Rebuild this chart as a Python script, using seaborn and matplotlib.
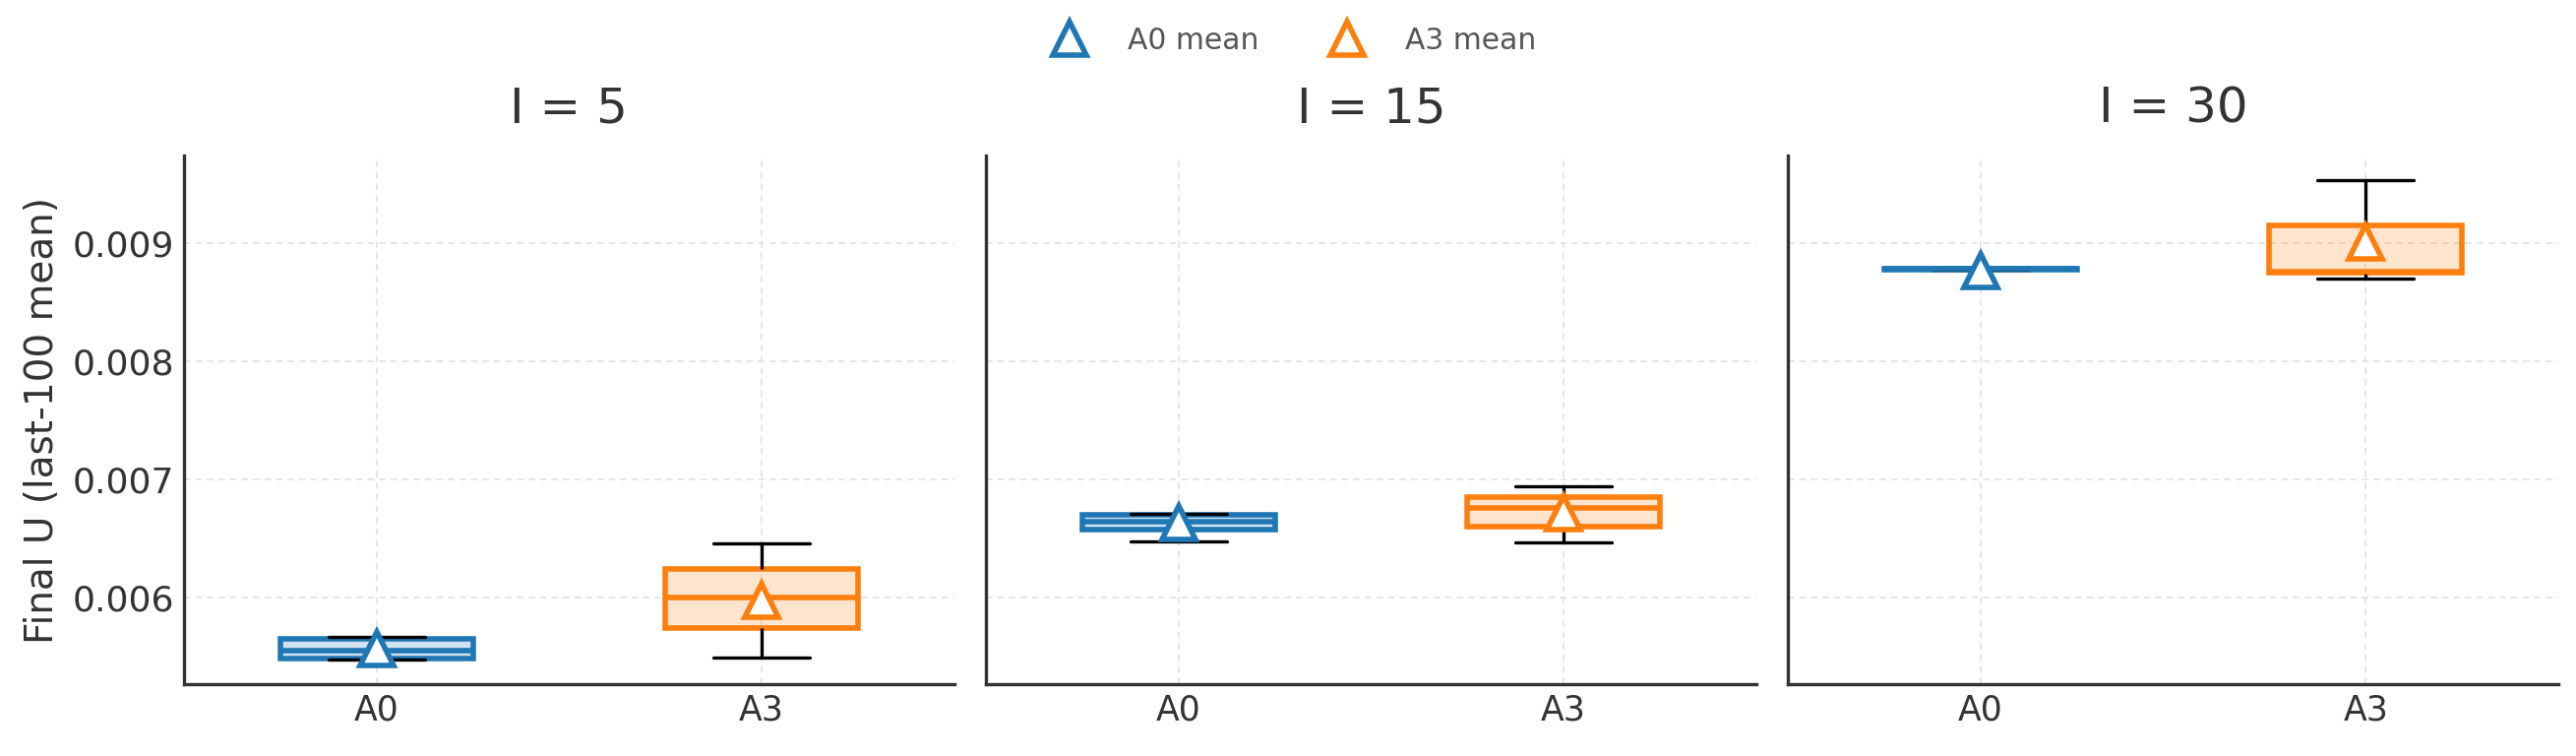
import numpy as np
import pandas as pd
import seaborn as sns
import matplotlib.pyplot as plt
from matplotlib.ticker import MultipleLocator


i_values = [5, 15, 30]
methods = ["A0", "A3"]
colors = {"A0": "#1f77b4", "A3": "#ff7f0e"}

# runs (whisker low, Q1, median, Q3, whisker high)
a0_runs = {
    5: [0.005478, 0.005485, 0.005555, 0.005655, 0.005667],
    15: [0.006481, 0.006579, 0.006647, 0.006703, 0.006708],
    30: [0.008738, 0.008778, 0.008783, 0.008787, 0.008790],
}
a3_runs = {
    5: [0.005496, 0.005748, 0.006000, 0.006244, 0.006461],
    15: [0.006470, 0.006603, 0.006758, 0.006856, 0.006945],
    30: [0.008697, 0.008747, 0.008757, 0.009154, 0.009534],
}
a0_means = [0.00557, 0.006639, 0.008768]
a3_means = [0.005982, 0.006719, 0.009006]

rows = []
for i in i_values:
    for v in a0_runs[i]:
        rows.append({"I": i, "method": "A0", "U": v})
    for v in a3_runs[i]:
        rows.append({"I": i, "method": "A3", "U": v})
df = pd.DataFrame(rows)
means = {"A0": a0_means, "A3": a3_means}

sns.set_style("white")
plt.rcParams["font.family"] = ["DejaVu Sans"]
text_col = "#333333"

fig, axes = plt.subplots(1, 3, figsize=(13.09, 3.84), dpi=200, sharey=True)
fig.subplots_adjust(left=0.0714, right=0.9931, top=0.794, bottom=0.095, wspace=0.041)

for k, (ax, i) in enumerate(zip(axes, i_values)):
    sub = df[df["I"] == i]
    sns.boxplot(data=sub, x="method", y="U", hue="method", order=methods,
                hue_order=methods, palette=colors, saturation=1, width=0.5,
                showfliers=False, linecolor="black", linewidth=1.2,
                medianprops=dict(gid="median", linewidth=2.0),
                legend=False, ax=ax)

    # light fill, coloured edges
    for patch in ax.patches:
        c = patch.get_facecolor()
        patch.set_facecolor((c[0], c[1], c[2], 0.2))
        patch.set_edgecolor((c[0], c[1], c[2], 1))
        patch.set_linewidth(2.0)
    for line in ax.lines:
        if line.get_gid() == "median":
            pos = int(round(np.mean(line.get_xdata())))
            line.set_color(colors[methods[pos]])
            line.set_zorder(3)

    for pos, m in enumerate(methods):
        ax.plot([pos], [means[m][k]], marker="^", linestyle="none",
                markersize=12.5, markerfacecolor="white",
                markeredgecolor=colors[m], markeredgewidth=2.0,
                zorder=5, label=f"{m} mean")

    ax.set_title(f"I = {i}", fontsize=18, color=text_col, pad=12)
    ax.set_xlabel("")
    ax.set_ylabel("Final U (last-100 mean)" if k == 0 else "",
                  fontsize=14, color=text_col)
    ax.set_xlim(-0.5, 1.5)
    ax.grid(True, linestyle=(0, (4, 3)), linewidth=0.6, color="#e2e2e2")
    ax.set_axisbelow(True)
    ax.tick_params(direction="in", length=4, width=1, colors=text_col,
                   labelsize=13)
    ax.tick_params(axis="x", labelsize=12.5)
    sns.despine(ax=ax)
    for s in ["left", "bottom"]:
        ax.spines[s].set_color(text_col)
        ax.spines[s].set_linewidth(1.2)

axes[0].set_ylim(0.00527, 0.00974)
axes[0].yaxis.set_major_locator(MultipleLocator(0.001))

handles, labels = axes[0].get_legend_handles_labels()
leg = fig.legend(handles, labels, loc="upper center", ncol=2, frameon=False,
                 bbox_to_anchor=(0.5, 1.0), fontsize=10.7, columnspacing=2.0,
                 handletextpad=1.0)
for t in leg.get_texts():
    t.set_color("#555555")

fig.savefig("out.png", dpi=200)
